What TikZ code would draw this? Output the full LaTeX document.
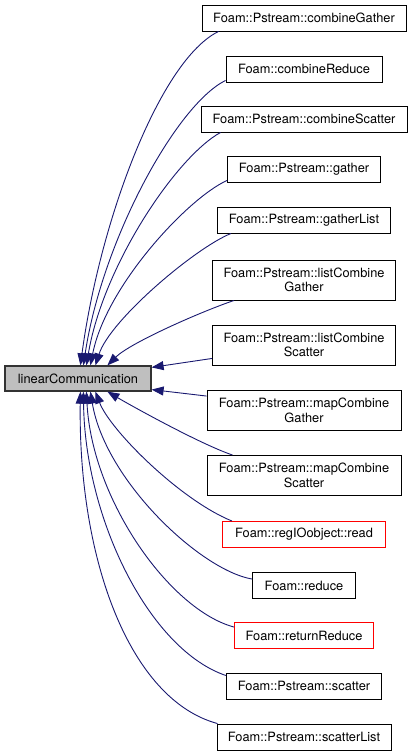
\documentclass[tikz,border=0pt]{standalone}
\usepackage{fontspec}
\setmainfont{TeX Gyre Heros}
\usetikzlibrary{arrows.meta,calc}
\definecolor{edgeblue}{HTML}{191970}
\definecolor{maingray}{HTML}{BFBFBF}
\definecolor{boxred}{HTML}{FF0000}
\begin{document}
\begin{tikzpicture}[x=1bp,y=-1bp,
  box/.style={draw=black, fill=white, line width=0.9bp, inner sep=0pt, align=center,
    font=\fontsize{12.8bp}{14.5bp}\selectfont, minimum height=26bp},
  tall/.style={minimum height=40bp},
  redbox/.style={draw=boxred},
  mainbox/.style={box, fill=maingray, draw=black!80, line width=1.2bp},
  edge/.style={draw=edgeblue, line width=0.9bp, -{Triangle[length=12bp,width=9bp]}}]
\useasboundingbox (0,0) rectangle (413,756);

\node[mainbox, minimum width=146bp, minimum height=25bp] (main) at (78,378.5) {linearCommunication};

\node[box, minimum width=204bp] (n1) at (304,18) {Foam::Pstream::combineGather};
\node[box, minimum width=156bp] (n2) at (304,69) {Foam::combineReduce};
\node[box, minimum width=206bp] (n3) at (304,119) {Foam::Pstream::combineScatter};
\node[box, minimum width=153bp] (n4) at (304,169) {Foam::Pstream::gather};
\node[box, minimum width=173bp] (n5) at (304,220) {Foam::Pstream::gatherList};
\node[box, tall, minimum width=183bp] (n6) at (304,280) {Foam::Pstream::listCombine\\Gather};
\node[box, tall, minimum width=183bp] (n7) at (304,345) {Foam::Pstream::listCombine\\Scatter};
\node[box, tall, minimum width=194bp] (n8) at (304,410.5) {Foam::Pstream::mapCombine\\Gather};
\node[box, tall, minimum width=194bp] (n9) at (304,475.5) {Foam::Pstream::mapCombine\\Scatter};
\node[box, redbox, minimum width=163bp] (n10) at (304,534.5) {Foam::regIOobject::read};
\node[box, minimum width=103bp] (n11) at (304,585.5) {Foam::reduce};
\node[box, redbox, minimum width=139bp] (n12) at (304,635.5) {Foam::returnReduce};
\node[box, minimum width=155bp] (n13) at (304,686) {Foam::Pstream::scatter};
\node[box, minimum width=174bp] (n14) at (304,737) {Foam::Pstream::scatterList};

\draw[edge] ($(n1.south west)+(17,0)$) .. controls (160,60) and (100,220) .. ($(main.north west)+(76,0)$);
\draw[edge] ($(n2.south west)+(0,-2)$) .. controls (176,105) and (102,241) .. ($(main.north west)+(79,0)$);
\draw[edge] ($(n3.south west)+(20,0)$) .. controls (176,157) and (103,266) .. ($(main.north west)+(82,0)$);
\draw[edge] ($(n4.south west)+(0,-2)$) .. controls (188,198) and (106,286) .. ($(main.north west)+(86,0)$);
\draw[edge] ($(n5.south west)+(14,0)$) .. controls (195,248) and (110,320) .. ($(main.north west)+(91,0)$);
\draw[edge] ($(n6.south west)+(22,0)$) .. controls (200,312) and (130,343) .. ($(main.north west)+(103,0)$);
\draw[edge] ($(n7.south west)+(0,-7)$) -- ($(main.north east)+(0,2)$);
\draw[edge] ($(n8.north west)+(0,6)$) -- ($(main.south east)+(0,-2)$);
\draw[edge] ($(n9.north west)+(26,0)$) .. controls (200,444) and (130,405) .. ($(main.south west)+(103,0)$);
\draw[edge] ($(n10.north west)+(10,0)$) .. controls (180,500) and (110,430) .. ($(main.south west)+(91,0)$);
\draw[edge] ($(n11.north west)+(0,7)$) .. controls (200,570) and (105,480) .. ($(main.south west)+(86,0)$);
\draw[edge] ($(n12.north west)+(0,5)$) .. controls (170,610) and (92,500) .. ($(main.south west)+(82,0)$);
\draw[edge] ($(n13.north west)+(0,3)$) .. controls (150,650) and (85,520) .. ($(main.south west)+(79,0)$);
\draw[edge] ($(n14.north west)+(1,0)$) .. controls (130,700) and (78,560) .. ($(main.south west)+(76,0)$);
\end{tikzpicture}
\end{document}
